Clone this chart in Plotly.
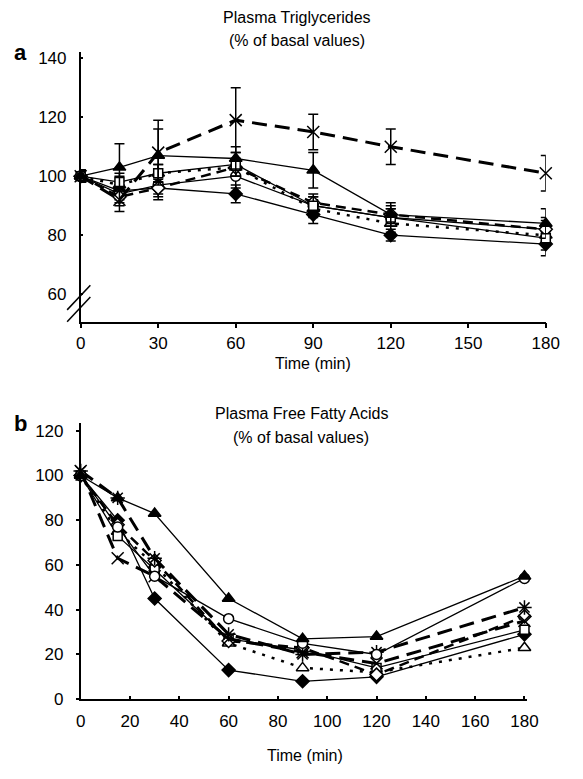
import plotly.graph_objects as go

W, H = 583, 779
OFF = 8  # default page body margin
FW, FH = W - OFF, H - OFF
time = [0, 15, 30, 60, 90, 120, 180]

# ---------- Panel a: Plasma triglycerides (% of basal) ----------
tg_tri_filled = [100, 103, 107, 106, 102, 87, 84]
tg_circle = [100, 94, 97, 100, 90, 86, 82]
tg_diamond_filled = [100, 95, 96, 94, 87, 80, 77]
tg_square = [100, 98, 101, 104, 90, 86, 79]
tg_cross = [100, 92, 108, 119, 115, 110, 101]
tg_tri_open = [100, 97, 101, 103, 89, 84, 80]
tg_diamond_open = [100, 93, 96, 103, 91, 87, 82]

tg_err_tri_filled = [2, 8, 9, 4, 6, 4, 5]
tg_err_circle = [2, 3, 3, 4, 3, 3, 4]
tg_err_diamond_filled = [2, 3, 4, 3, 3, 2, 4]
tg_err_square = [2, 3, 3, 4, 3, 3, 4]
tg_err_cross = [2, 4, 11, 11, 6, 6, 6]
tg_err_tri_open = [2, 3, 3, 3, 3, 3, 3]
tg_err_diamond_open = [2, 3, 3, 3, 3, 3, 3]

# ---------- Panel b: Plasma free fatty acids (% of basal) ----------
ffa_tri_filled = [100, 90, 83, 45, 27, 28, 55]
ffa_circle = [100, 77, 55, 36, 25, 20, 54]
ffa_diamond_filled = [100, 80, 45, 13, 8, 10, 29]
ffa_square = [100, 73, 58, 27, 22, 14, 31]
ffa_asterisk = [102, 90, 63, 29, 20, 21, 41]
ffa_tri_open = [100, 75, 60, 25, 14, 12, 23]
ffa_diamond_open = [100, 78, 62, 26, 23, 11, 37]
ffa_cross = [102, 63, 55, 27, 21, 16, 35]

xticks_a = [0, 30, 60, 90, 120, 150, 180]
yticks_a = [60, 80, 100, 120, 140]
xticks_b = [0, 20, 40, 60, 80, 100, 120, 140, 160, 180]
yticks_b = [0, 20, 40, 60, 80, 100, 120]

FONT = "Liberation Sans, Arial, sans-serif"


def px_x(p):
    return (p - OFF) / FW


def px_y(p):
    return 1 - (p - OFF) / FH


fig = go.Figure()

styles = {
    "tri_filled": dict(symbol="triangle-up", color="black", lw=1.3, dash="solid", size=11),
    "circle": dict(symbol="circle", color="white", lw=1.3, dash="solid", size=10),
    "diamond_filled": dict(symbol="diamond", color="black", lw=1.3, dash="solid", size=10),
    "square": dict(symbol="square", color="white", lw=1.3, dash="solid", size=9),
    "cross": dict(symbol="x-thin-open", color="black", lw=3, dash="15px,8px", size=12),
    "asterisk": dict(symbol="asterisk-open", color="black", lw=3, dash="15px,8px", size=12),
    "tri_open": dict(symbol="triangle-up", color="white", lw=2.5, dash="3px,7px", size=11),
    "diamond_open": dict(symbol="diamond", color="white", lw=2.5, dash="10px,6px", size=10),
}


def add(xa, ya, ys, key, err=None):
    s = styles[key]
    open_line = s["symbol"].endswith("-open")
    marker = dict(symbol=s["symbol"], size=s["size"], color="black" if open_line else s["color"],
                  line=dict(color="black", width=1.5))
    kw = {}
    if err is not None:
        kw["error_y"] = dict(type="data", array=err, visible=True, color="black",
                             thickness=1.5, width=5)
    fig.add_trace(go.Scatter(x=time, y=ys, mode="lines+markers", xaxis=xa, yaxis=ya,
                             line=dict(color="black", width=s["lw"], dash=s["dash"]),
                             marker=marker, cliponaxis=False, showlegend=False, **kw))


add("x", "y", tg_diamond_filled, "diamond_filled", tg_err_diamond_filled)
add("x", "y", tg_circle, "circle", tg_err_circle)
add("x", "y", tg_tri_open, "tri_open", tg_err_tri_open)
add("x", "y", tg_diamond_open, "diamond_open", tg_err_diamond_open)
add("x", "y", tg_square, "square", tg_err_square)
add("x", "y", tg_tri_filled, "tri_filled", tg_err_tri_filled)
add("x", "y", tg_cross, "cross", tg_err_cross)

add("x2", "y2", ffa_diamond_filled, "diamond_filled")
add("x2", "y2", ffa_tri_open, "tri_open")
add("x2", "y2", ffa_square, "square")
add("x2", "y2", ffa_diamond_open, "diamond_open")
add("x2", "y2", ffa_cross, "cross")
add("x2", "y2", ffa_asterisk, "asterisk")
add("x2", "y2", ffa_circle, "circle")
add("x2", "y2", ffa_tri_filled, "tri_filled")

axis_common = dict(showline=True, linecolor="black", linewidth=1.5, showgrid=False,
                   zeroline=False, tickcolor="black", tickwidth=1.5,
                   tickfont=dict(family=FONT, size=17, color="black"))

fig.update_layout(
    width=FW, height=FH, margin=dict(l=0, r=0, t=0, b=0),
    paper_bgcolor="white", plot_bgcolor="white",
    font=dict(family=FONT, color="black"),
    xaxis=dict(domain=[px_x(78), px_x(559)], range=[0, 180], anchor="y",
               tickvals=xticks_a, ticks="outside", ticklen=5, **axis_common),
    yaxis=dict(domain=[px_y(324), px_y(50)], range=[50.7, 142], anchor="x",
               tickvals=yticks_a, ticks="inside", ticklen=3, ticklabelstandoff=9, **axis_common),
    xaxis2=dict(domain=[px_x(78), px_x(540)], range=[0, 181.2], anchor="y2",
                tickvals=xticks_b, ticks="inside", ticklen=3, ticklabelstandoff=6, **axis_common),
    yaxis2=dict(domain=[px_y(708), px_y(427)], range=[0, 123.5], anchor="x2",
                tickvals=yticks_b, ticks="outside", ticklen=3, ticklabelstandoff=9, **axis_common),
)

ann_font = dict(family=FONT, size=16, color="black")
anns = [
    dict(text="Plasma Triglycerides", x=px_x(302), y=px_y(15)),
    dict(text="(% of basal values)", x=px_x(302), y=px_y(38)),
    dict(text="Time (min)", x=px_x(318), y=px_y(367)),
    dict(text="Plasma Free Fatty Acids", x=px_x(306), y=px_y(417)),
    dict(text="(% of basal values)", x=px_x(306), y=px_y(442)),
    dict(text="Time (min)", x=px_x(310), y=px_y(765)),
    dict(text="<b>a</b>", x=px_x(16), y=px_y(50), font=dict(family=FONT, size=22, color="black")),
    dict(text="<b>b</b>", x=px_x(16), y=px_y(428), font=dict(family=FONT, size=22, color="black")),
]
for a in anns:
    a.setdefault("font", ann_font)
    fig.add_annotation(xref="paper", yref="paper", showarrow=False,
                       xanchor="center", yanchor="middle", **a)

# axis break marks on panel a's y axis
for y0 in (324, 312):
    fig.add_shape(type="line", xref="paper", yref="paper",
                  x0=px_x(64), y0=px_y(y0), x1=px_x(88), y1=px_y(y0 - 25),
                  line=dict(color="black", width=1.5))

fig.write_html("out.html")
